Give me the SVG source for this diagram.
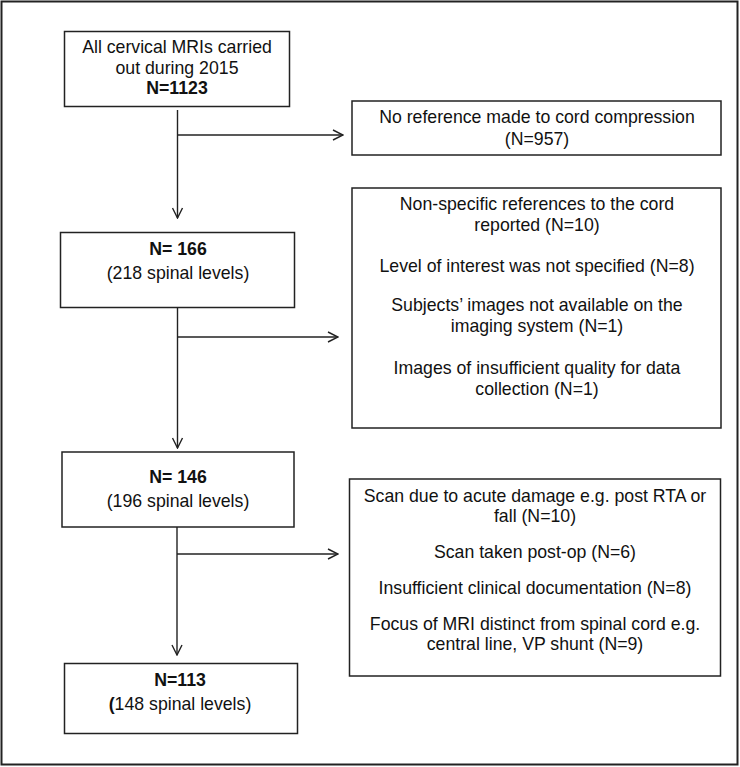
<svg xmlns="http://www.w3.org/2000/svg" width="740" height="767" viewBox="0 0 740 767">
<style>
.box{fill:#fff;stroke:#222;stroke-width:1.5}
.t{font-family:"Liberation Sans",Arial,sans-serif;font-size:17.7px;fill:#111;text-anchor:middle}
.b{font-weight:bold}
.ln{fill:none;stroke:#222;stroke-width:1.4}
</style>
<defs>
<marker id="ah" viewBox="0 0 12 12" refX="11" refY="6" markerWidth="12" markerHeight="12" markerUnits="userSpaceOnUse" orient="auto">
<path d="M1,1 L11,6 L1,11" fill="none" stroke="#222" stroke-width="1.4"/>
</marker>
</defs>
<rect x="1.5" y="1.5" width="736" height="763" fill="#fff" stroke="#222" stroke-width="2"/>
<g id="connectors">
<line class="ln" x1="177.5" y1="110" x2="177.5" y2="218" marker-end="url(#ah)"/>
<line class="ln" x1="177.5" y1="135" x2="343" y2="135" marker-end="url(#ah)"/>
<line class="ln" x1="177.5" y1="307" x2="177.5" y2="448" marker-end="url(#ah)"/>
<line class="ln" x1="177.5" y1="337" x2="338" y2="337" marker-end="url(#ah)"/>
<line class="ln" x1="177" y1="527" x2="177" y2="655" marker-end="url(#ah)"/>
<line class="ln" x1="177" y1="554" x2="338" y2="554" marker-end="url(#ah)"/>
</g>
<g id="n1">
<rect class="box" x="64.5" y="31.5" width="225" height="75"/>
<text class="t" x="177" y="53">All cervical MRIs carried</text>
<text class="t" x="177" y="74">out during 2015</text>
<text class="t b" x="177" y="94">N=1123</text>
</g>
<g id="n2">
<rect class="box" x="352" y="101" width="369" height="54"/>
<text class="t" x="537" y="123">No reference made to cord compression</text>
<text class="t" x="537" y="145">(N=957)</text>
</g>
<g id="n3">
<rect class="box" x="60.5" y="232.5" width="234" height="75"/>
<text class="t b" x="178" y="255">N= 166</text>
<text class="t" x="178" y="279">(218 spinal levels)</text>
</g>
<g id="n4">
<rect class="box" x="352" y="188" width="369" height="240"/>
<text class="t" x="537" y="210">Non-specific references to the cord</text>
<text class="t" x="537" y="231">reported (N=10)</text>
<text class="t" x="537" y="272">Level of interest was not specified (N=8)</text>
<text class="t" x="537" y="311">Subjects’ images not available on the</text>
<text class="t" x="537" y="332">imaging system (N=1)</text>
<text class="t" x="537" y="374">Images of insufficient quality for data</text>
<text class="t" x="537" y="395">collection (N=1)</text>
</g>
<g id="n5">
<rect class="box" x="62" y="452" width="232" height="75"/>
<text class="t b" x="178" y="483">N= 146</text>
<text class="t" x="178" y="507">(196 spinal levels)</text>
</g>
<g id="n6">
<rect class="box" x="64.5" y="663.5" width="233" height="70"/>
<text class="t b" x="180" y="686">N=113</text>
<text class="t" x="180" y="710"><tspan class="b">(</tspan>148 spinal levels)</text>
</g>
<g id="n7">
<rect class="box" x="349.5" y="479" width="371" height="197"/>
<text class="t" x="535" y="502">Scan due to acute damage e.g. post RTA or</text>
<text class="t" x="535" y="522">fall (N=10)</text>
<text class="t" x="535" y="558">Scan taken post-op (N=6)</text>
<text class="t" x="535" y="594">Insufficient clinical documentation (N=8)</text>
<text class="t" x="535" y="630">Focus of MRI distinct from spinal cord e.g.</text>
<text class="t" x="535" y="650">central line, VP shunt (N=9)</text>
</g>
</svg>
